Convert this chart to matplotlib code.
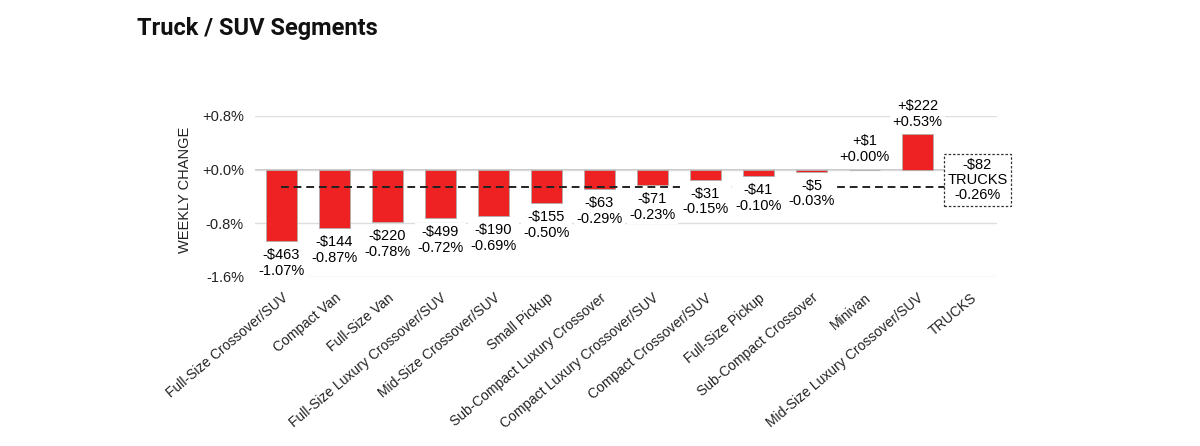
import matplotlib
matplotlib.use('Agg')
import matplotlib.pyplot as plt

categories = ['Full-Size Crossover/SUV', 'Compact Van', 'Full-Size Van',
              'Full-Size Luxury Crossover/SUV', 'Mid-Size Crossover/SUV',
              'Small Pickup', 'Sub-Compact Luxury Crossover',
              'Compact Luxury Crossover/SUV', 'Compact Crossover/SUV',
              'Full-Size Pickup', 'Sub-Compact Crossover', 'Minivan',
              'Mid-Size Luxury Crossover/SUV']
pct_change = [-1.07, -0.87, -0.78, -0.72, -0.69, -0.50, -0.29, -0.23,
              -0.15, -0.10, -0.03, 0.00, 0.53]
dollar_change = [-463, -144, -220, -499, -190, -155, -63, -71, -31, -41,
                 -5, 1, 222]
total_label = 'TRUCKS'
total_pct = -0.26
total_dollar = -82
yticks = [0.8, 0.0, -0.8, -1.6]

plt.rcParams['font.family'] = ['Liberation Sans', 'DejaVu Sans']

fig = plt.figure(figsize=(12, 4.46), dpi=100)
ax = fig.add_axes([0.2125, 0.379, 0.6183, 0.361])

x = list(range(len(categories)))
ax.bar(x, pct_change, width=0.57, color='#ee2222', edgecolor='#b0b0b0',
       linewidth=0.6, zorder=2)

ax.set_xlim(-0.5, len(categories) + 0.5)
ax.set_ylim(-1.6, 0.8)
ax.set_yticks(yticks)
ax.set_yticklabels([f'{v:+.1f}%' if v >= 0 else f'{v:.1f}%' for v in yticks],
                   fontsize=10.5, color='#222222')
ax.yaxis.grid(True, color='#dddddd', linewidth=1, zorder=0)
ax.axhline(0, color='#bbbbbb', linewidth=1.2, zorder=1)
ax.tick_params(axis='both', length=0, pad=8)
for s in ax.spines.values():
    s.set_visible(False)

# average line across segments, ends at the total box
ax.plot([0, len(categories) - 0.4], [total_pct, total_pct], color='#222222',
        linestyle=(0, (4, 2.5)), linewidth=1.4, zorder=3)

bbox = dict(facecolor='white', edgecolor='none', pad=1.5)
for xi, p, d in zip(x, pct_change, dollar_change):
    if p >= 0 and d >= 0:
        txt = f'+${d}\n+{p:.2f}%'
        ax.annotate(txt, (xi, max(p, 0)), xytext=(0, 4),
                    textcoords='offset points', ha='center', va='bottom',
                    fontsize=10.5, linespacing=1.15, bbox=bbox, zorder=4,
                    annotation_clip=False)
    else:
        txt = f'-${abs(d)}\n{p:.2f}%'
        ax.annotate(txt, (xi, p), xytext=(0, -5),
                    textcoords='offset points', ha='center', va='top',
                    fontsize=10.5, linespacing=1.15, bbox=bbox, zorder=4,
                    annotation_clip=False)

# total box
ax.annotate(f'-${abs(total_dollar)}\n{total_label}\n{total_pct:.2f}%',
            (len(categories), total_pct), xytext=(5, 5),
            textcoords='offset points', ha='center', va='center',
            fontsize=10.5, linespacing=1.1, zorder=5, annotation_clip=False,
            bbox=dict(facecolor='white', edgecolor='#333333',
                      linestyle=(0, (2, 1.5)), linewidth=0.9,
                      boxstyle='square,pad=0.25'))

ax.set_xticks(x + [len(categories)])
ax.set_xticklabels(categories + [total_label], rotation=40, ha='right',
                   rotation_mode='anchor', fontsize=10, color='#222222')
ax.tick_params(axis='x', pad=10)

ax.set_ylabel('WEEKLY CHANGE', fontsize=10.5, color='#222222', labelpad=4)
ax.yaxis.set_label_coords(-0.085, 0.54)

fig.text(0.114, 0.935, 'Truck / SUV Segments', fontsize=17, fontweight='bold',
         family='Roboto', ha='left', va='center', color='#111111')

fig.savefig('out.png', dpi=100)
